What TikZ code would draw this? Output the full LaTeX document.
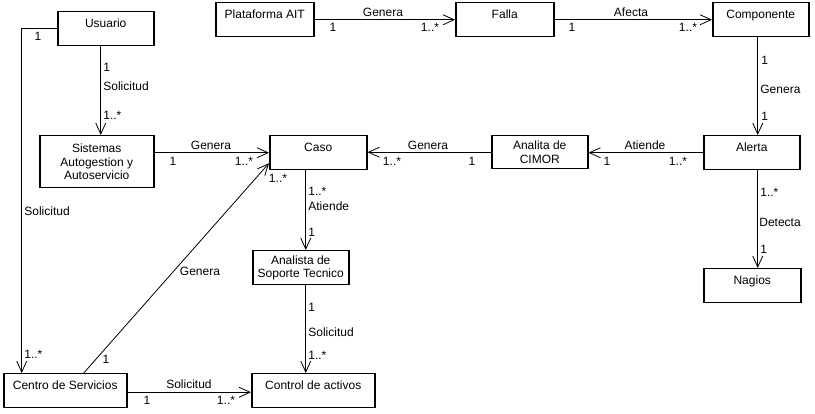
\documentclass[tikz,border=0pt]{standalone}
\usepackage{fontspec}
\setmainfont{Liberation Sans}
\usetikzlibrary{arrows.meta,calc}
\begin{document}
\begin{tikzpicture}[x=1pt,y=-1pt,
  box/.style={draw, line width=1.5pt, anchor=north west, inner sep=0pt, font=\fontsize{12}{13.5}\selectfont},
  onebox/.style={box, text height=16pt, text depth=18pt},
  multibox/.style={box, align=center},
  assoc/.style={line width=0.8pt, -{Straight Barb[length=11pt,width=10pt]}},
  lbl/.style={inner sep=0pt, text height=8.6pt, text depth=0pt, font=\fontsize{12}{13.5}\selectfont}]
\useasboundingbox (0,0) rectangle (815,414);

\node[onebox, minimum width=96pt] (usuario) at (57,11) {Usuario};
\node[onebox, minimum width=98pt] (plat) at (215,2) {Plataforma AIT};
\node[onebox, minimum width=98pt] (falla) at (455,2) {Falla};
\node[onebox, minimum width=96pt] (comp) at (712,2) {Componente};
\node[multibox, minimum width=114pt, minimum height=52pt] (sist) at (39,135) {Sistemas\\Autogestion y\\Autoservicio};
\node[onebox, minimum width=97pt] (caso) at (269,135) {Caso};
\node[multibox, minimum width=96pt, minimum height=33pt] (cimor) at (491,135) {Analita de\\CIMOR};
\node[onebox, minimum width=96pt] (alerta) at (703,135) {Alerta};
\node[multibox, minimum width=96pt, minimum height=34pt] (analista) at (252,250) {Analista de\\Soporte Tecnico};
\node[onebox, minimum width=97pt] (nagios) at (703,268) {Nagios};
\node[onebox, minimum width=123pt] (centro) at (3,373) {Centro de Servicios};
\node[onebox, minimum width=123pt] (control) at (251,373) {Control de activos};

% Usuario -> Sistemas
\draw[assoc] ([xshift=-5pt]usuario.south) -- ([xshift=-5pt]usuario.south |- sist.north)
  node[lbl, anchor=west, at={(103,67)}] {1}
  node[lbl, anchor=west, at={(103,86)}] {Solicitud}
  node[lbl, anchor=west, at={(103,115)}] {1..*};
% Usuario -> Centro
\draw[assoc] (usuario.west) -| ([xshift=-43.5pt]centro.north)
  node[lbl, at={(38,36)}] {1}
  node[lbl, anchor=west, at={(24,211)}] {Solicitud}
  node[lbl, anchor=west, at={(24,354)}] {1..*};
% Plataforma -> Falla
\draw[assoc] (plat.east) -- (falla.west)
  node[lbl, at={(383,12)}] {Genera}
  node[lbl, at={(333,27)}] {1}
  node[lbl, at={(430,27)}] {1..*};
% Falla -> Componente
\draw[assoc] (falla.east) -- (comp.west)
  node[lbl, at={(631,12)}] {Afecta}
  node[lbl, at={(572,27)}] {1}
  node[lbl, at={(688,27)}] {1..*};
% Componente -> Alerta
\draw[assoc] ([xshift=-3pt]comp.south) -- ([xshift=-3pt]comp.south |- alerta.north)
  node[lbl, anchor=west, at={(761,60)}] {1}
  node[lbl, anchor=west, at={(760,89)}] {Genera}
  node[lbl, anchor=west, at={(761,116)}] {1};
% Alerta -> CIMOR
\draw[assoc] (alerta.west) -- (alerta.west -| cimor.east)
  node[lbl, at={(645,145)}] {Atiende}
  node[lbl, at={(607,161)}] {1}
  node[lbl, at={(678,161)}] {1..*};
% CIMOR -> Caso
\draw[assoc] (cimor.west) -- (cimor.west -| caso.east)
  node[lbl, at={(428,145)}] {Genera}
  node[lbl, at={(472,161)}] {1}
  node[lbl, at={(392,161)}] {1..*};
% Sistemas -> Caso
\draw[assoc] ([yshift=9pt]sist.east) -- ([yshift=9pt]sist.east -| caso.west)
  node[lbl, at={(211,145)}] {Genera}
  node[lbl, at={(173,161)}] {1}
  node[lbl, at={(244,161)}] {1..*};
% Caso -> Analista
\draw[assoc] ([xshift=-12.5pt]caso.south) -- ([xshift=-12.5pt]caso.south |- analista.north)
  node[lbl, anchor=west, at={(308,191)}] {1..*}
  node[lbl, anchor=west, at={(308,206)}] {Atiende}
  node[lbl, anchor=west, at={(308,232)}] {1};
% Analista -> Control
\draw[assoc] ([xshift=5pt]analista.south) -- ([xshift=5pt]analista.south |- control.north)
  node[lbl, anchor=west, at={(308,307)}] {1}
  node[lbl, anchor=west, at={(308,332)}] {Solicitud}
  node[lbl, anchor=west, at={(308,355)}] {1..*};
% Centro -> Caso
\draw[assoc] ([xshift=18.5pt]centro.north) -- ([yshift=-10.5pt]caso.west)
  node[lbl, at={(200,271)}] {Genera}
  node[lbl, at={(106,359)}] {1}
  node[lbl, at={(278,178)}] {1..*};
% Centro -> Control
\draw[assoc] ([yshift=-1.5pt]centro.east) -- ([yshift=-1.5pt]centro.east -| control.west)
  node[lbl, at={(189,384)}] {Solicitud}
  node[lbl, at={(147,400)}] {1}
  node[lbl, at={(226,400)}] {1..*};
% Alerta -> Nagios
\draw[assoc] ([xshift=6pt]alerta.south) -- ([xshift=6pt]alerta.south |- nagios.north)
  node[lbl, anchor=west, at={(760,192)}] {1..*}
  node[lbl, anchor=west, at={(759,222)}] {Detecta}
  node[lbl, anchor=west, at={(760,249)}] {1};
\end{tikzpicture}
\end{document}
